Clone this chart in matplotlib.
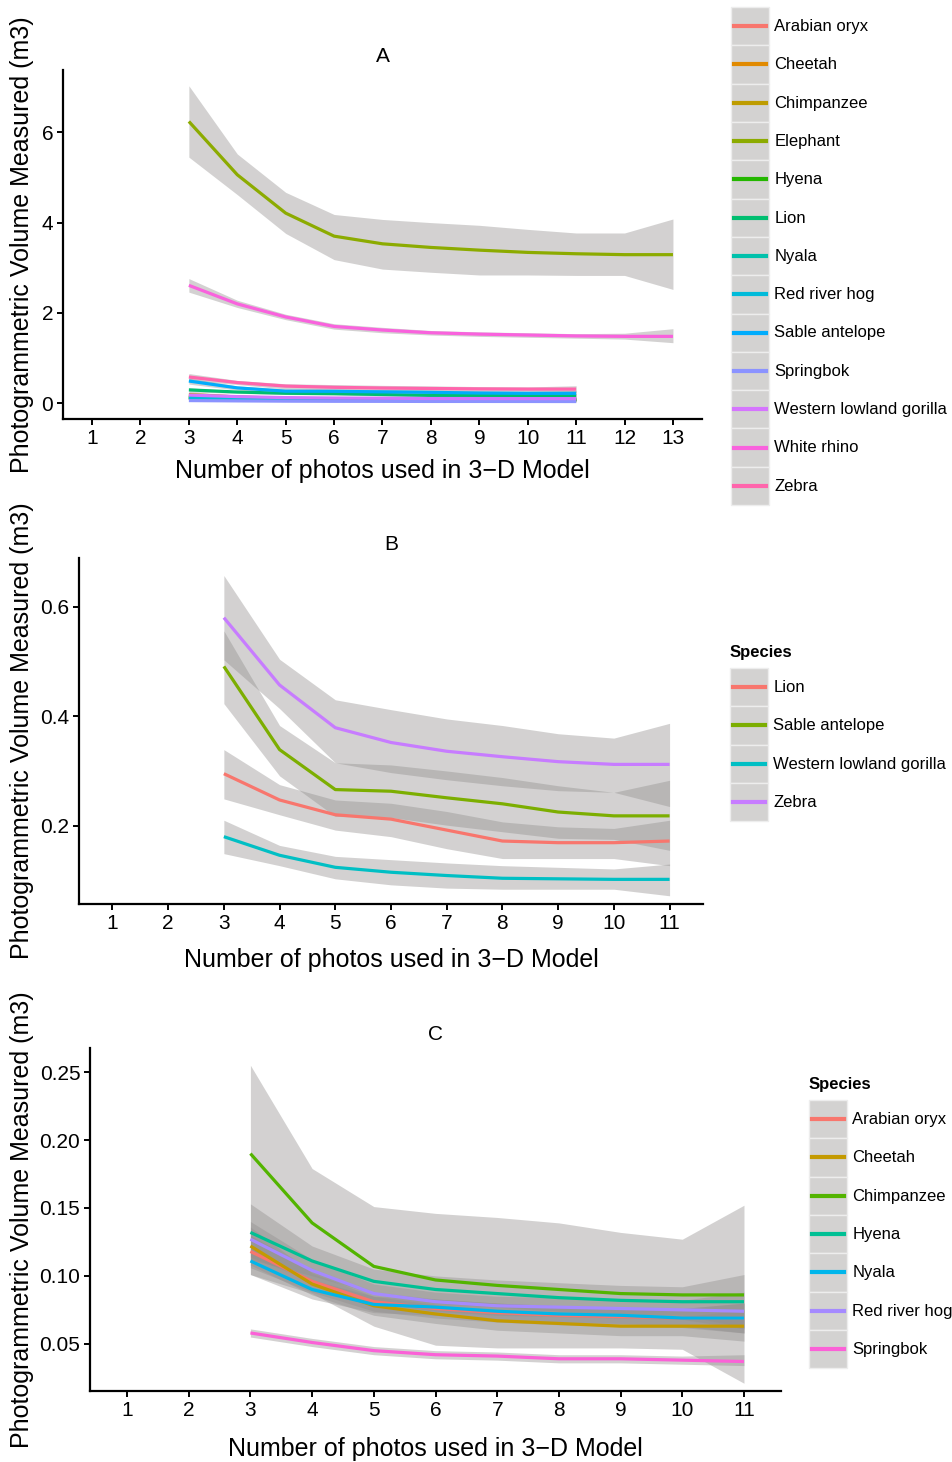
import numpy as np
import matplotlib
matplotlib.use('Agg')
import matplotlib.pyplot as plt
from matplotlib.lines import Line2D
from matplotlib.patches import Rectangle
from matplotlib.legend_handler import HandlerBase

plt.rcParams['font.family'] = ['Liberation Sans', 'DejaVu Sans']

# number of photos used
photos = [3, 4, 5, 6, 7, 8, 9, 10, 11]
photos_long = [3, 4, 5, 6, 7, 8, 9, 10, 11, 12, 13]

# mean volume and ribbon limits (m3)
elephant = [6.24, 5.06, 4.21, 3.70, 3.53, 3.45, 3.39, 3.34, 3.31, 3.29, 3.29]
elephant_lo = [5.45, 4.62, 3.76, 3.18, 2.97, 2.90, 2.84, 2.84, 2.83, 2.83, 2.52]
elephant_hi = [7.03, 5.52, 4.67, 4.18, 4.07, 4.00, 3.94, 3.85, 3.77, 3.77, 4.08]

white_rhino = [2.61, 2.20, 1.91, 1.70, 1.62, 1.56, 1.53, 1.51, 1.49, 1.48, 1.48]
white_rhino_lo = [2.46, 2.12, 1.85, 1.64, 1.56, 1.51, 1.48, 1.46, 1.44, 1.42, 1.34]
white_rhino_hi = [2.76, 2.28, 1.97, 1.76, 1.68, 1.61, 1.58, 1.56, 1.54, 1.55, 1.65]

zebra = [0.580, 0.457, 0.379, 0.352, 0.336, 0.326, 0.317, 0.312, 0.312]
zebra_lo = [0.503, 0.414, 0.315, 0.297, 0.284, 0.273, 0.264, 0.261, 0.235]
zebra_hi = [0.657, 0.504, 0.430, 0.412, 0.395, 0.383, 0.368, 0.360, 0.387]

sable = [0.491, 0.339, 0.266, 0.263, 0.251, 0.240, 0.225, 0.218, 0.218]
sable_lo = [0.423, 0.291, 0.217, 0.215, 0.201, 0.189, 0.177, 0.175, 0.155]
sable_hi = [0.556, 0.383, 0.315, 0.311, 0.300, 0.288, 0.273, 0.261, 0.283]

lion = [0.295, 0.247, 0.220, 0.212, 0.192, 0.172, 0.169, 0.169, 0.172]
lion_lo = [0.249, 0.220, 0.192, 0.180, 0.158, 0.140, 0.140, 0.140, 0.127]
lion_hi = [0.339, 0.275, 0.247, 0.241, 0.226, 0.207, 0.198, 0.195, 0.210]

gorilla = [0.180, 0.146, 0.124, 0.115, 0.109, 0.104, 0.103, 0.102, 0.102]
gorilla_lo = [0.149, 0.127, 0.103, 0.092, 0.086, 0.084, 0.084, 0.084, 0.072]
gorilla_hi = [0.210, 0.164, 0.144, 0.138, 0.132, 0.127, 0.124, 0.121, 0.130]

oryx = [0.118, 0.096, 0.081, 0.076, 0.073, 0.071, 0.070, 0.069, 0.069]
oryx_lo = [0.106, 0.088, 0.074, 0.069, 0.066, 0.064, 0.063, 0.062, 0.058]
oryx_hi = [0.130, 0.104, 0.088, 0.083, 0.080, 0.078, 0.077, 0.076, 0.080]

cheetah = [0.122, 0.094, 0.078, 0.072, 0.067, 0.065, 0.063, 0.063, 0.063]
cheetah_lo = [0.108, 0.086, 0.071, 0.065, 0.060, 0.058, 0.056, 0.056, 0.052]
cheetah_hi = [0.136, 0.102, 0.085, 0.079, 0.074, 0.072, 0.070, 0.070, 0.075]

chimp = [0.190, 0.139, 0.107, 0.097, 0.093, 0.090, 0.087, 0.086, 0.086]
chimp_lo = [0.101, 0.087, 0.063, 0.049, 0.047, 0.047, 0.047, 0.046, 0.021]
chimp_hi = [0.255, 0.179, 0.151, 0.146, 0.143, 0.139, 0.132, 0.127, 0.152]

hyena = [0.132, 0.111, 0.096, 0.090, 0.087, 0.084, 0.082, 0.081, 0.081]
hyena_lo = [0.112, 0.100, 0.087, 0.080, 0.077, 0.074, 0.072, 0.071, 0.062]
hyena_hi = [0.153, 0.122, 0.105, 0.100, 0.097, 0.095, 0.093, 0.092, 0.101]

nyala = [0.111, 0.090, 0.079, 0.077, 0.074, 0.072, 0.071, 0.069, 0.069]
nyala_lo = [0.101, 0.083, 0.073, 0.071, 0.068, 0.066, 0.065, 0.063, 0.058]
nyala_hi = [0.121, 0.097, 0.085, 0.083, 0.080, 0.078, 0.077, 0.076, 0.080]

hog = [0.127, 0.104, 0.087, 0.081, 0.078, 0.077, 0.076, 0.075, 0.074]
hog_lo = [0.114, 0.096, 0.080, 0.074, 0.071, 0.070, 0.069, 0.068, 0.061]
hog_hi = [0.140, 0.112, 0.094, 0.088, 0.085, 0.084, 0.083, 0.082, 0.088]

springbok = [0.058, 0.051, 0.045, 0.042, 0.041, 0.039, 0.039, 0.038, 0.037]
springbok_lo = [0.055, 0.048, 0.042, 0.039, 0.038, 0.036, 0.036, 0.035, 0.034]
springbok_hi = [0.061, 0.054, 0.048, 0.045, 0.044, 0.042, 0.042, 0.041, 0.042]

species_a = ['Arabian oryx', 'Cheetah', 'Chimpanzee', 'Elephant', 'Hyena', 'Lion', 'Nyala',
             'Red river hog', 'Sable antelope', 'Springbok', 'Western lowland gorilla',
             'White rhino', 'Zebra']
species_b = ['Lion', 'Sable antelope', 'Western lowland gorilla', 'Zebra']
species_c = ['Arabian oryx', 'Cheetah', 'Chimpanzee', 'Hyena', 'Nyala', 'Red river hog', 'Springbok']

colors_a = ['#F8766D', '#E18A00', '#BE9C00', '#8CAB00', '#24B700', '#00BE70', '#00C1AB',
            '#00BBDA', '#00ACFC', '#8B93FF', '#D575FE', '#F962DD', '#FF65AC']
colors_b = ['#F8766D', '#7CAE00', '#00BFC4', '#C77CFF']
colors_c = ['#F8766D', '#C49A00', '#53B400', '#00C094', '#00B6EB', '#A58AFF', '#FB61D7']

# lookup tables built from the lists above
means = {'Arabian oryx': oryx, 'Cheetah': cheetah, 'Chimpanzee': chimp, 'Elephant': elephant,
         'Hyena': hyena, 'Lion': lion, 'Nyala': nyala, 'Red river hog': hog,
         'Sable antelope': sable, 'Springbok': springbok, 'Western lowland gorilla': gorilla,
         'White rhino': white_rhino, 'Zebra': zebra}
lows = {'Arabian oryx': oryx_lo, 'Cheetah': cheetah_lo, 'Chimpanzee': chimp_lo, 'Elephant': elephant_lo,
        'Hyena': hyena_lo, 'Lion': lion_lo, 'Nyala': nyala_lo, 'Red river hog': hog_lo,
        'Sable antelope': sable_lo, 'Springbok': springbok_lo, 'Western lowland gorilla': gorilla_lo,
        'White rhino': white_rhino_lo, 'Zebra': zebra_lo}
highs = {'Arabian oryx': oryx_hi, 'Cheetah': cheetah_hi, 'Chimpanzee': chimp_hi, 'Elephant': elephant_hi,
         'Hyena': hyena_hi, 'Lion': lion_hi, 'Nyala': nyala_hi, 'Red river hog': hog_hi,
         'Sable antelope': sable_hi, 'Springbok': springbok_hi, 'Western lowland gorilla': gorilla_hi,
         'White rhino': white_rhino_hi, 'Zebra': zebra_hi}

RIBBON = '#918e8d'
KEY_BG = '#d3d2d1'
W, H = 952, 1462

fig = plt.figure(figsize=(W / 100, H / 100), dpi=100)


class KeyHandler(HandlerBase):
    # grey ggplot-style key box with the line across its middle
    def create_artists(self, legend, orig_handle, xdescent, ydescent, width, height, fontsize, trans):
        rect = Rectangle((-xdescent, -ydescent), width, height, facecolor=KEY_BG,
                         edgecolor='#ededed', lw=1, transform=trans)
        yc = -ydescent + height / 2
        line = Line2D([-xdescent + 0.08 * width, -xdescent + 0.92 * width], [yc, yc],
                      color=orig_handle.get_color(), lw=3, transform=trans)
        return [rect, line]


def px_axes(left, top, right, bottom):
    return fig.add_axes([left / W, 1 - bottom / H, (right - left) / W, (bottom - top) / H])


def draw_panel(ax, names, colors, title, xticks, yticks, yticklabels, xlim, ylim):
    for n in names:
        xs = photos_long if len(means[n]) == len(photos_long) else photos
        ax.fill_between(xs, lows[n], highs[n], color=RIBBON, alpha=0.4, lw=0)
    for n, c in zip(names, colors):
        xs = photos_long if len(means[n]) == len(photos_long) else photos
        ax.plot(xs, means[n], color=c, lw=2.3, solid_capstyle='butt')
    ax.set_xlim(*xlim)
    ax.set_ylim(*ylim)
    ax.set_xticks(xticks)
    ax.set_yticks(yticks)
    ax.set_yticklabels(yticklabels)
    for s in ['top', 'right']:
        ax.spines[s].set_visible(False)
    for s in ['left', 'bottom']:
        ax.spines[s].set_linewidth(1.6)
    ax.tick_params(length=4, width=1.4, labelsize=15, pad=3, colors='black')
    ax.set_title(title, fontsize=15, pad=6)
    ax.set_xlabel('Number of photos used in 3\u2212D Model', fontsize=18, va='center')
    ax.set_ylabel('Photogrammetric Volume Measured (m3)', fontsize=18, va='center')


def add_legend(names, colors, x, y, title=None, title_y=None):
    handles = [Line2D([], [], color=c) for c in colors]
    leg = fig.legend(handles, names, loc='upper left', bbox_to_anchor=(x / W, 1 - y / H),
                     frameon=False, fontsize=12, handlelength=2.3, handleheight=3.16,
                     labelspacing=0, handletextpad=0.3, borderpad=0, borderaxespad=0,
                     handler_map={Line2D: KeyHandler()})
    if title:
        fig.text(x / W, 1 - title_y / H, title, fontsize=12, fontweight='bold',
                 ha='left', va='center')
    return leg


# panel A
ax_a = px_axes(63, 70, 702, 419)
draw_panel(ax_a, species_a, colors_a, 'A', range(1, 14), [0, 2, 4, 6], ['0', '2', '4', '6'],
           (0.4, 13.6), (-0.35, 7.38))
ax_a.xaxis.set_label_coords(0.5, -(471 - 419) / (419 - 70))
ax_a.yaxis.set_label_coords(-(63 - 22) / (702 - 63), 0.5)
add_legend(species_a, colors_a, 731, 7)

# panel B
ax_b = px_axes(79, 558, 703, 904)
draw_panel(ax_b, species_b, colors_b, 'B', range(1, 12), [0.2, 0.4, 0.6], ['0.2', '0.4', '0.6'],
           (0.4, 11.6), (0.057, 0.689))
ax_b.xaxis.set_label_coords(0.5, -(960 - 904) / (904 - 558))
ax_b.yaxis.set_label_coords(-(79 - 22) / (703 - 79), 0.5)
add_legend(species_b, colors_b, 730, 668, title='Species', title_y=652)

# panel C
ax_c = px_axes(90, 1048, 781, 1391)
draw_panel(ax_c, species_c, colors_c, 'C', range(1, 12), [0.05, 0.10, 0.15, 0.20, 0.25],
           ['0.05', '0.10', '0.15', '0.20', '0.25'], (0.4, 11.6), (0.0153, 0.2677))
ax_c.xaxis.set_label_coords(0.5, -(1449 - 1391) / (1391 - 1048))
ax_c.yaxis.set_label_coords(-(90 - 22) / (781 - 90), 0.5)
add_legend(species_c, colors_c, 809, 1100, title='Species', title_y=1084)

fig.savefig('out.png', dpi=100)
